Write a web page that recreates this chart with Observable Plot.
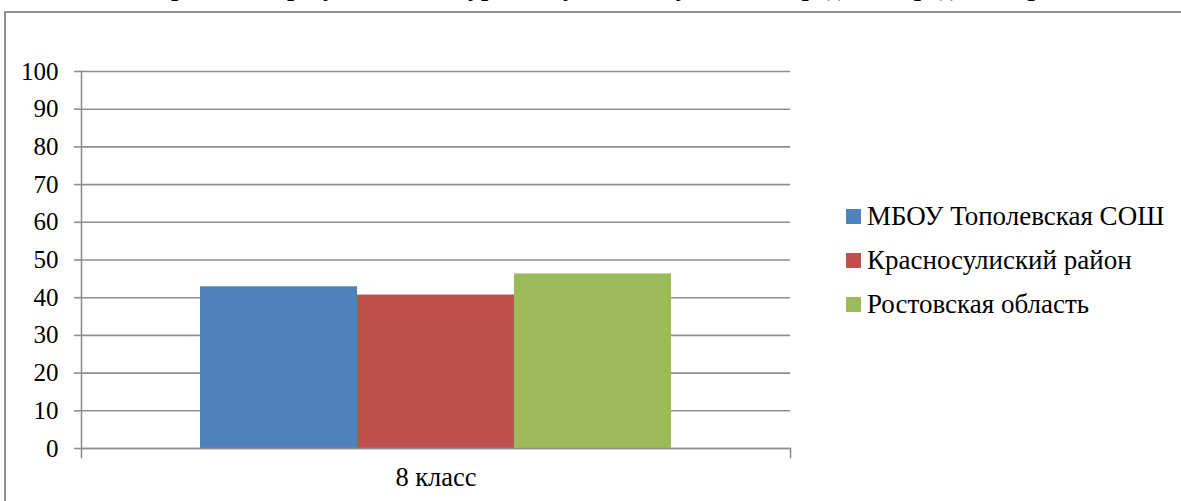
<!DOCTYPE html>
<html>
<head>
<meta charset="utf-8">
<script src="https://cdn.jsdelivr.net/npm/d3@7"></script>
<script src="https://cdn.jsdelivr.net/npm/@observablehq/plot@0.6"></script>
<style>
  html, body { margin: 0; padding: 0; background: #fff; }
  #wrap { position: relative; width: 1181px; height: 501px; overflow: hidden; background: #fff; }
  #title { position: absolute; left: 0; top: -25px; width: 1540px; text-align: center; white-space: nowrap; font-weight: bold; font-size: 26px; line-height: 26px; color: #000; }
  #frame { position: absolute; left: 4px; top: 11px; width: 1400px; height: 600px; border-top: 2px solid #8f8f8f; border-left: 2px solid #8f8f8f; box-sizing: border-box; }
  #chart { position: absolute; left: 0; top: 0; }
  #legend { position: absolute; left: 846px; top: 195px; font-size: 27px; color: #000; }
  .item { display: flex; align-items: center; height: 43.8px; }
  .sw { width: 15px; height: 15px; margin-right: 6px; }
</style>
</head>
<body>
<div id="wrap">
  <div id="title"></div>
  <div id="frame"></div>
  <div id="chart"></div>
  <div id="legend"></div>
</div>
<script>
const titleText = "Сравнение результатов по уровню усвоения учебного предмета среди ОО, района и области, в процентах";
const categories = ["8 класс"];
const series = ["МБОУ Тополевская СОШ", "Красносулиский район", "Ростовская область"];
const values = [42.9, 40.7, 46.3];
const colors = ["#4F81BD", "#C0504D", "#9BBB59"];
const yTicks = [0, 10, 20, 30, 40, 50, 60, 70, 80, 90, 100];

const FONT = '"Liberation Serif"';
document.getElementById("wrap").style.fontFamily = FONT;
document.getElementById("title").textContent = titleText;

const data = series.map((s, i) => ({series: s, value: values[i], category: categories[0]}));
const grid = "#8f8f8f";

const chart = Plot.plot({
  width: 820,
  height: 501,
  marginLeft: 81,
  marginRight: 30,
  marginTop: 71,
  marginBottom: 53,
  style: {background: "none", fontSize: "25px", color: "#000", fontFamily: FONT},
  x: {type: "band", domain: series, paddingInner: 0, paddingOuter: 0.755, axis: null},
  y: {domain: [0, 100], ticks: yTicks},
  color: {domain: series, range: colors},
  marks: [
    Plot.gridY(yTicks, {stroke: grid, strokeOpacity: 1, strokeWidth: 1.6}),
    Plot.axisY(yTicks, {tickSize: 7, tickPadding: 16, stroke: grid, strokeWidth: 1.6, fill: "#000", label: null, tickFormat: d => String(d)}),
    Plot.frame({anchor: "left", stroke: grid, strokeWidth: 1.6, insetBottom: -9}),
    Plot.frame({anchor: "right", stroke: grid, strokeWidth: 1.6, insetTop: 377, insetBottom: -9}),
    Plot.barY(data, {x: "series", y: "value", fill: "series"}),
    Plot.ruleY([0], {stroke: grid, strokeWidth: 1.6}),
    Plot.text(categories, {text: d => d, frameAnchor: "bottom", dy: 37, fill: "#000", fontSize: 26.5})
  ]
});
chart.style.fontFamily = FONT;
document.getElementById("chart").appendChild(chart);

const legend = document.getElementById("legend");
series.forEach((s, i) => {
  const item = document.createElement("div");
  item.className = "item";
  const sw = document.createElement("span");
  sw.className = "sw";
  sw.style.background = colors[i];
  const t = document.createElement("span");
  t.textContent = s;
  item.appendChild(sw);
  item.appendChild(t);
  legend.appendChild(item);
});
</script>
</body>
</html>
